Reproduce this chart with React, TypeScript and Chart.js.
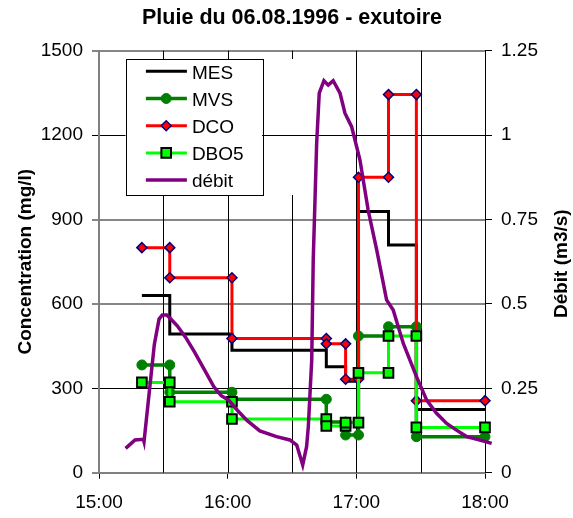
import React, { useEffect, useRef } from 'react';
import { Chart, registerables } from 'chart.js';
import { drawPoint } from 'chart.js/helpers';

Chart.register(...registerables);

const FONT = '"Liberation Sans", Arial, Helvetica, sans-serif';

// ---- texts ----
const chartTitle = 'Pluie du 06.08.1996 - exutoire';
const leftAxisTitle = 'Concentration (mg/l)';
const rightAxisTitle = 'Débit (m3/s)';
const seriesLabels = ['MES', 'MVS', 'DCO', 'DBO5', 'débit'];

// ---- axes ----
const axisStartHour = 15;
const xMaxMinutes = 180; // 15:00 -> 18:00
const concTicks = [0, 300, 600, 900, 1200, 1500];
const debitTicks = [0, 0.25, 0.5, 0.75, 1, 1.25];

// ---- sampling intervals (clock times) ----
const sampleBounds = ['15:20', '15:33', '16:02', '16:46', '16:55', '17:01', '17:15', '17:28', '18:00'];

// ---- concentrations per interval (mg/l) ----
const mesValues = [630, 493, 435, 377, 325, 928, 809, 225];
const mvsValues = [383, 286, 261, 180, 134, 486, 519, 128];
const dcoValues = [800, 693, 477, 458, 332, 1050, 1344, 256];
const dbo5Values = [321, 252, 191, 166, 178, 355, 486, 161];

// ---- discharge (minutes after 15:00, m3/s) ----
const debitMinutes = [
  12.4, 16.8, 20.7, 21.0, 23.3, 25.8, 28.0, 29.5, 31.6, 33.5, 36.5, 40.5, 44.5, 49.0, 53.5, 57.0,
  60.5, 64.5, 69.0, 75.0, 82.8, 89.0, 92.2, 95.0, 96.8, 97.6, 99.2, 99.9, 101.5, 102.7, 104.9,
  106.9, 109.2, 112.4, 114.7, 117.8, 121.7, 125.5, 129.5, 134.1, 137.2, 141.9, 148.1, 152.8,
  157.4, 162.1, 166.7, 171.4, 177.6, 183.1,
];
const debitValues = [
  0.072, 0.097, 0.099, 0.092, 0.23, 0.38, 0.455, 0.467, 0.467, 0.455, 0.435, 0.4, 0.358, 0.307,
  0.255, 0.228, 0.215, 0.185, 0.155, 0.124, 0.107, 0.097, 0.082, 0.023, 0.077, 0.136, 0.334,
  0.63, 0.976, 1.124, 1.161, 1.148, 1.161, 1.124, 1.065, 1.025, 0.926, 0.778, 0.66, 0.512,
  0.482, 0.383, 0.284, 0.215, 0.176, 0.146, 0.126, 0.107, 0.097, 0.087,
];

const toMinutes = (t: string) => {
  const [h, m] = t.split(':').map(Number);
  return (h - axisStartHour) * 60 + m;
};

const stepData = (values: number[]) =>
  values.flatMap((v, i) => [
    { x: toMinutes(sampleBounds[i]), y: v },
    { x: toMinutes(sampleBounds[i + 1]), y: v },
  ]);

const fmtClock = (m: number) => `${axisStartHour + Math.floor(m / 60)}:${String(m % 60).padStart(2, '0')}`;

const legendBox = (ca: any) => ({
  left: ca.left + 26.5,
  top: ca.top + 8.3,
  width: 136.5,
  height: 136,
});

const halfHourGrid = {
  id: 'halfHourGrid',
  beforeDatasetsDraw(chart: any) {
    const { ctx, chartArea: ca, scales } = chart;
    const lg = legendBox(ca);
    ctx.save();
    ctx.strokeStyle = '#000';
    ctx.lineWidth = 1;
    for (let m = 30; m < xMaxMinutes; m += 30) {
      const px = Math.round(scales.x.getPixelForValue(m)) + 0.5;
      ctx.beginPath();
      if (m <= 90) {
        ctx.moveTo(px, ca.top);
        ctx.lineTo(px, lg.top);
        ctx.moveTo(px, lg.top + lg.height);
        ctx.lineTo(px, ca.bottom);
      } else {
        ctx.moveTo(px, ca.top);
        ctx.lineTo(px, ca.bottom);
      }
      ctx.stroke();
    }
    ctx.restore();
  },
};

const decorations = {
  id: 'decorations',
  afterDraw(chart: any) {
    const { ctx, chartArea: ca, width } = chart;
    ctx.save();
    // chart title
    ctx.fillStyle = '#000';
    ctx.font = `bold 21.5px ${FONT}`;
    ctx.textAlign = 'center';
    ctx.textBaseline = 'middle';
    ctx.fillText(chartTitle, (ca.left + ca.right) / 2, 18.5);
    // right axis title (reads bottom to top)
    ctx.save();
    ctx.translate(width - 11, (ca.top + ca.bottom) / 2 + 2);
    ctx.rotate(-Math.PI / 2);
    ctx.font = `bold 19px ${FONT}`;
    ctx.fillText(rightAxisTitle, 0, 0);
    ctx.restore();

    // legend
    const lg = legendBox(ca);
    ctx.fillStyle = '#fff';
    ctx.fillRect(lg.left, lg.top, lg.width, lg.height);
    ctx.strokeStyle = '#000';
    ctx.lineWidth = 1;
    ctx.strokeRect(Math.round(lg.left) + 0.5, Math.round(lg.top) + 0.5, Math.round(lg.width), Math.round(lg.height));
    chart.data.datasets.forEach((ds: any, i: number) => {
      const y = lg.top + 12.3 + i * 27.2;
      ctx.strokeStyle = ds.borderColor;
      ctx.lineWidth = ds.borderWidth;
      ctx.beginPath();
      ctx.moveTo(lg.left + 20.4, y);
      ctx.lineTo(lg.left + 61.4, y);
      ctx.stroke();
      if (ds.pointRadius > 0) {
        ctx.fillStyle = ds.pointBackgroundColor;
        ctx.strokeStyle = ds.pointBorderColor;
        ctx.lineWidth = ds.pointBorderWidth;
        drawPoint(ctx, { pointStyle: ds.pointStyle, radius: ds.pointRadius, rotation: 0, borderWidth: ds.pointBorderWidth }, lg.left + 40.7, y);
      }
      ctx.fillStyle = '#000';
      ctx.font = `19px ${FONT}`;
      ctx.textAlign = 'left';
      ctx.textBaseline = 'middle';
      ctx.fillText(ds.label, lg.left + 66.4, y + 2);
    });
    ctx.restore();
  },
};

export default function App() {
  const canvasRef = useRef<HTMLCanvasElement | null>(null);

  useEffect(() => {
    if (!canvasRef.current) return;
    Chart.defaults.font.family = FONT;
    Chart.defaults.color = '#000';

    const darkLines = [300, 1200];
    const chart = new Chart(canvasRef.current, {
      type: 'line',
      data: {
        datasets: [
          {
            label: seriesLabels[0],
            data: stepData(mesValues),
            borderColor: '#000000',
            borderWidth: 3,
            pointRadius: 0,
            order: 4,
          },
          {
            label: seriesLabels[1],
            data: stepData(mvsValues),
            borderColor: '#008000',
            borderWidth: 3.5,
            pointStyle: 'circle',
            pointRadius: 5,
            pointBackgroundColor: '#008000',
            pointBorderColor: '#008000',
            pointBorderWidth: 1,
            order: 3,
          },
          {
            label: seriesLabels[2],
            data: stepData(dcoValues),
            borderColor: '#FF0000',
            borderWidth: 3,
            pointStyle: 'rectRot',
            pointRadius: 5,
            pointBackgroundColor: '#FF0000',
            pointBorderColor: '#000080',
            pointBorderWidth: 1.5,
            order: 2,
          },
          {
            label: seriesLabels[3],
            data: stepData(dbo5Values),
            borderColor: '#00FF00',
            borderWidth: 3,
            pointStyle: 'rect',
            pointRadius: 6.8,
            pointBackgroundColor: '#00FF00',
            pointBorderColor: '#000000',
            pointBorderWidth: 2,
            order: 1,
          },
          {
            label: seriesLabels[4],
            data: debitMinutes.map((m, i) => ({ x: m, y: debitValues[i] })),
            borderColor: '#800080',
            borderWidth: 3.5,
            pointRadius: 0,
            yAxisID: 'y1',
            order: 0,
          },
        ] as any,
      },
      options: {
        animation: false,
        responsive: false,
        events: [],
        layout: { padding: { top: 50.7, left: 0, right: 0, bottom: 0 } },
        elements: { line: { tension: 0 } },
        datasets: { line: { clip: false as any } },
        plugins: { legend: { display: false }, title: { display: false }, tooltip: { enabled: false } },
        scales: {
          x: {
            type: 'linear',
            position: 'bottom',
            min: 0,
            max: xMaxMinutes,
            ticks: {
              stepSize: 30,
              autoSkip: false,
              maxRotation: 0,
              padding: 13,
              font: { size: 19 },
              color: '#000',
              callback: (v: any) => (Number(v) % 60 === 0 ? fmtClock(Number(v)) : ''),
            },
            grid: {
              drawOnChartArea: false,
              tickLength: 6,
              lineWidth: 1,
              tickColor: (c: any) => (c.tick && c.tick.value % 60 === 0 ? '#000' : 'rgba(0,0,0,0)'),
            },
            border: { color: '#808080', width: 2 },
            afterFit: (s: any) => {
              s.height = 45.3;
            },
          },
          y: {
            type: 'linear',
            position: 'left',
            min: concTicks[0],
            max: concTicks[concTicks.length - 1],
            ticks: {
              stepSize: concTicks[1] - concTicks[0],
              padding: 9,
              font: { size: 19 },
              color: '#000',
              callback: (v: any) => String(v),
            },
            grid: {
              tickLength: 7,
              color: (c: any) => (c.tick && darkLines.includes(c.tick.value) ? '#000' : '#868686'),
              lineWidth: (c: any) => (c.tick && darkLines.includes(c.tick.value) ? 1 : 2),
            },
            border: { color: '#808080', width: 2 },
            title: {
              display: true,
              text: leftAxisTitle,
              font: { size: 19, weight: 'bold' },
              color: '#000',
              padding: { top: 14.6, bottom: 0 },
            },
            afterFit: (s: any) => {
              s.width = 99;
            },
          },
          y1: {
            type: 'linear',
            position: 'right',
            min: debitTicks[0],
            max: debitTicks[debitTicks.length - 1],
            ticks: {
              stepSize: debitTicks[1] - debitTicks[0],
              padding: 9,
              font: { size: 19 },
              color: '#000',
              callback: (v: any) => String(v),
            },
            grid: { drawOnChartArea: false, tickLength: 7, tickColor: '#000' },
            border: { color: '#000', width: 1 },
            afterFit: (s: any) => {
              s.width = 88;
            },
          },
        },
      } as any,
      plugins: [halfHourGrid, decorations],
    });
    return () => chart.destroy();
  }, []);

  return (
    <div style={{ position: 'fixed', left: 0, top: 0, width: 573, height: 518, background: '#fff' }}>
      <canvas ref={canvasRef} width={573} height={518} style={{ width: 573, height: 518, display: 'block' }} />
    </div>
  );
}
